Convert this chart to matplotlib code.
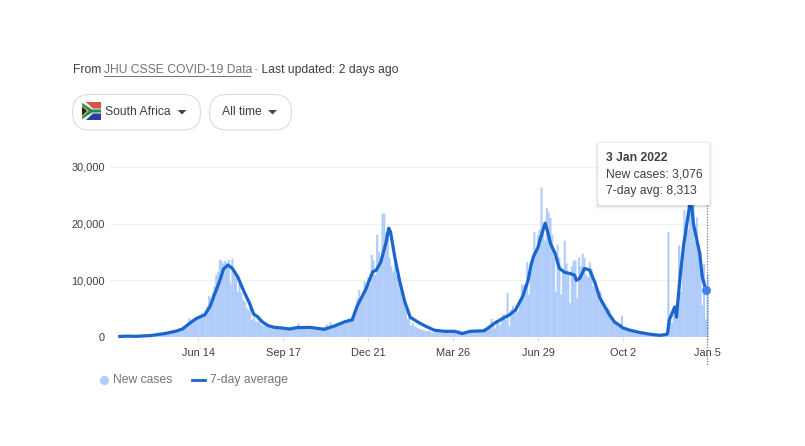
import numpy as np
import matplotlib
matplotlib.use('Agg')
import matplotlib.pyplot as plt
from matplotlib.patches import FancyBboxPatch, Polygon, Rectangle

plt.rcParams['font.family'] = ['Liberation Sans', 'DejaVu Sans']

START = np.datetime64('2020-03-18')

# new cases, one value every 2 days, cut in pieces with their own first day
bars_a_day = 0
bars_a = [60, 120, 80, 60, 50, 70, 100, 140, 130, 80, 90, 110, 100, 130, 180,
          200, 190, 220, 260, 300, 350, 380, 420, 500, 480, 560, 620, 700, 800, 900,
          1000, 1100, 1200, 1300, 1500, 1600, 1700, 2000, 2500, 3300, 2800, 2500, 3000, 3400, 3600,
          3900, 4300, 4000, 4600, 5400, 7200, 7000, 7900, 9000, 10900, 11500, 13600, 13400, 13000, 13400,
          13000, 13600, 9500, 13800, 11500, 10500, 8000, 9500, 7800, 6500, 6200, 5200, 4600, 6300, 3000,
          3500, 2800, 2600, 3300, 2200, 2000, 2000, 1900, 2100, 1800, 1500, 1600, 1900, 1700, 1400]
bars_b_day = 180
bars_b = [1600, 1500, 1300, 1700, 1400, 1800, 1500, 1700, 1900, 1500, 2400, 1600, 1700, 1500, 1800,
          1700, 1500, 1600, 1400, 1700, 1300, 1500, 1400, 1200, 1700, 1900, 2200, 1800, 2600, 1800,
          1900, 2000, 2200, 2100, 2500, 2700, 2500, 3000, 3300, 3100, 3600, 4500, 5200, 6800, 8300,
          7000, 8000, 9800, 9500, 10500, 9200, 14500, 13500, 11000, 18000, 15000, 14000, 21800, 21800, 18500,
          17800, 14000, 12500, 11500, 13000, 10800, 9500, 9000, 8000, 6500, 5000, 3200, 3500, 2000, 2500,
          1900, 1700, 1500, 1400, 1300, 1200, 1100, 1000, 1100, 900, 800, 850, 900, 1100, 900]
bars_c_day = 360
bars_c = [1000, 1100, 900, 1200, 1000, 1100, 1300, 800, 1100, 900, 1200, 1000, 700, 600, 800,
          1000, 1200, 900, 1100, 1000, 1300, 1200, 1000, 1100, 1600, 1300, 1500, 1800, 3200, 2000,
          1500, 3000, 2500, 2000, 3800, 4000, 3000, 7800, 2000, 4800,
          5500, 4200, 5600, 4500, 5900, 9200, 9300, 9000, 13200, 7500, 13500, 14000, 18500, 15000, 18000,
          19000, 26400, 20000, 17000, 22700, 22000, 21000, 18000, 14000, 8000, 16200, 14000, 7500, 12000, 17000,
          13000, 11000, 6000, 12500, 13500, 13500, 6900, 14000, 12500, 14700, 14000, 11000, 10500, 13200, 12000,
          9000, 10000, 8800, 7000, 8000]
bars_d_day = 540
bars_d = [6500, 6000, 4500, 5200, 4800, 3500, 3400, 2800, 2200, 1900, 2000, 3700, 1500, 1200, 1100,
          1000, 900, 1000, 800, 800, 700, 650, 700, 600, 550, 500, 500, 450, 400, 400,
          350, 350, 300, 300, 280, 350, 500, 18500, 3000, 2500, 3800, 4800, 4000,
          16200, 8000, 13000, 22400, 20000, 19000, 26000, 27000, 24000, 17000, 21100, 16000, 15000,
          5600, 12900, 3076, 11000]

avg_days = [0, 9, 18, 34, 50, 62, 70, 78, 86, 95, 101, 106, 112, 116, 121, 126, 132, 139, 145, 150,
            154, 160, 166, 173, 181, 190, 198, 213, 229, 241, 252, 260, 266, 275, 283, 287, 292, 298,
            301, 303, 308, 313, 319, 325, 334, 341, 352, 364, 375, 383, 392, 408, 420, 429, 436,
            443, 451, 457, 460, 463, 468, 471, 476, 479, 482, 487, 492, 498, 504, 509, 511, 515, 520,
            526, 532, 537, 543, 548, 554, 559, 563, 571, 582, 593, 604, 612, 613, 615, 621, 623, 627,
            631, 637, 639, 642, 646, 649, 652, 656, 658]
avg_vals = [100, 150, 120, 250, 600, 1000, 1400, 2400, 3300, 3900, 5400, 7500, 10000, 12000, 12700,
            12100, 10600, 8000, 6000, 4000, 3600, 2600, 2000, 1700, 1600, 1400, 1650, 1700, 1350, 2000,
            2700, 3000, 5600, 8300, 11500, 11800, 13200, 16700, 19200, 18500, 13900, 10000, 6200, 3500,
            2600, 2000, 1200, 1000, 1000, 600, 1000, 1100, 2500, 3300, 3900, 4800, 7200, 10000,
            12500, 14200, 15800, 17500, 20100, 18500, 16500, 14800, 12100, 11400, 11200, 10900, 10000,
            10400, 12100, 11800, 9500, 7000, 5300, 3900, 2600, 2100, 1600, 1200, 800, 500, 300, 450, 600,
            3000, 5300, 3500, 10500, 16200, 22400, 25000, 20000, 17000, 14800, 10500, 8313, 8000]

tick_dates = ['2020-06-14', '2020-09-17', '2020-12-21', '2021-03-26', '2021-06-29', '2021-10-02', '2022-01-05']
tick_labels = ['Jun 14', 'Sep 17', 'Dec 21', 'Mar 26', 'Jun 29', 'Oct 2', 'Jan 5']
y_ticks = [0, 10000, 20000, 30000]
y_labels = ['0', '10,000', '20,000', '30,000']

W, H = 805, 446
GREY = '#3c4043'
LIGHT = '#70757a'
FS = 8.7
TICK_FS = 7.9

fig = plt.figure(figsize=(W / 100, H / 100), dpi=100)
ax = fig.add_axes([110 / W, 1 - 337 / H, (709.5 - 110) / W, 170 / H])


def days(d):
    return START + np.asarray(d).astype('timedelta64[D]')


for first, vals in [(bars_a_day, bars_a), (bars_b_day, bars_b), (bars_c_day, bars_c), (bars_d_day, bars_d)]:
    b = ax.bar(days(first + 2 * np.arange(len(vals))), vals, width=2.3, color='#aecbfa', lw=0, zorder=2)
    for r in b:
        r.set_snap(False)

ax.plot(days(avg_days), avg_vals, color='#1a66cc', lw=2.3, solid_joinstyle='round', zorder=3, clip_on=False)
ax.plot(days([656]), [8313], 'o', color='#4285f4', ms=6.5, mew=0, zorder=4, clip_on=False)

ax.set_xlim(days(-11), days(660))
ax.set_ylim(0, 30000)
ax.set_yticks(y_ticks)
ax.set_yticklabels(y_labels)
ax.set_xticks(np.array(tick_dates, dtype='datetime64[D]'))
ax.set_xticklabels(tick_labels, va='baseline')
ax.tick_params(axis='y', length=0, pad=3.6, labelsize=TICK_FS, labelcolor=GREY)
ax.tick_params(axis='x', length=3, width=0.7, color='#dadce0', pad=10.8, labelsize=TICK_FS, labelcolor=GREY)
ax.grid(axis='y', color='#f0f0f0', lw=1, zorder=0)
ax.set_axisbelow(True)
for s in ['top', 'right', 'left', 'bottom']:
    ax.spines[s].set_visible(False)
ax.patch.set_alpha(0)

# page furniture, in pixels of the figure
over = fig.add_axes([0, 0, 1, 1], zorder=5)
over.set_xlim(0, W)
over.set_ylim(H, 0)
over.axis('off')

over.text(72.5, 70, 'From ', fontsize=FS, color=GREY, va='center')
over.text(103.5, 70, 'JHU CSSE COVID-19 Data', fontsize=FS, color=LIGHT, va='center')
over.plot([103.5, 250], [75.5, 75.5], color=LIGHT, lw=0.7)
over.text(253.5, 70, '\u00b7 Last updated: 2 days ago', fontsize=FS, color=GREY, va='center')

for x0, x1 in [(72.5, 200.5), (209.5, 291.5)]:
    over.add_patch(FancyBboxPatch((x0 + 17.5, 112), x1 - x0 - 35, 0.5,
                                  boxstyle='round,pad=17.5,rounding_size=17.5',
                                  fc='white', ec='#dadce0', lw=0.8))
over.text(105, 112, 'South Africa', fontsize=FS, color=GREY, va='center')
over.text(222, 112, 'All time', fontsize=FS, color=GREY, va='center')
for cx in [182, 272.5]:
    over.add_patch(Polygon([(cx - 4.5, 110), (cx + 4.5, 110), (cx, 114.5)], fc='#444746', lw=0))

# flag
over.add_patch(Rectangle((82, 102), 19, 9, fc='#d9534a', lw=0))
over.add_patch(Rectangle((82, 111), 19, 9, fc='#2a3f9d', lw=0))
over.add_patch(Polygon([(82, 102), (86, 102), (93, 108.5), (101, 108.5), (101, 113.5), (93, 113.5), (86, 120), (82, 120)],
                       fc='#e8efe8', lw=0))
over.add_patch(Polygon([(82, 103), (92, 109.5), (101, 109.5), (101, 112.5), (92, 112.5), (82, 119)], fc='#1f8a5a', lw=0))
over.add_patch(Polygon([(82, 105), (89, 111), (82, 117)], fc='#e5b53a', lw=0))
over.add_patch(Polygon([(82, 106.5), (87, 111), (82, 115.5)], fc='#222222', lw=0))

# legend
over.plot([103.5], [380], 'o', color='#aecbfa', ms=6.5, mew=0)
over.text(113, 380, 'New cases', fontsize=FS, color=LIGHT, va='center')
over.plot([192, 205], [380, 380], color='#1a66cc', lw=2)
over.text(210, 380, '7-day average', fontsize=FS, color=LIGHT, va='center')

# hover line and tooltip
over.plot([706.8, 706.8], [205, 365], color='#5f6368', lw=0.8, ls=(0, (1, 1.5)))
for grow, alpha in [(3, 0.025), (2, 0.04), (1, 0.06)]:
    over.add_patch(FancyBboxPatch((598 - grow, 144 - grow), 111.5 + 2 * grow, 62 + 2 * grow,
                                  boxstyle='round,pad=0,rounding_size=3', fc='black', alpha=alpha, lw=0))
over.add_patch(FancyBboxPatch((598, 143), 111.5, 62, boxstyle='round,pad=0,rounding_size=2', fc='white', lw=0))
over.text(606, 158, '3 Jan 2022', fontsize=FS, fontweight='bold', color=GREY, va='center')
over.text(606, 174.5, 'New cases: 3,076', fontsize=FS, color=GREY, va='center')
over.text(606, 191, '7-day avg: 8,313', fontsize=FS, color=GREY, va='center')

fig.savefig('out.png', dpi=100, facecolor='white')
